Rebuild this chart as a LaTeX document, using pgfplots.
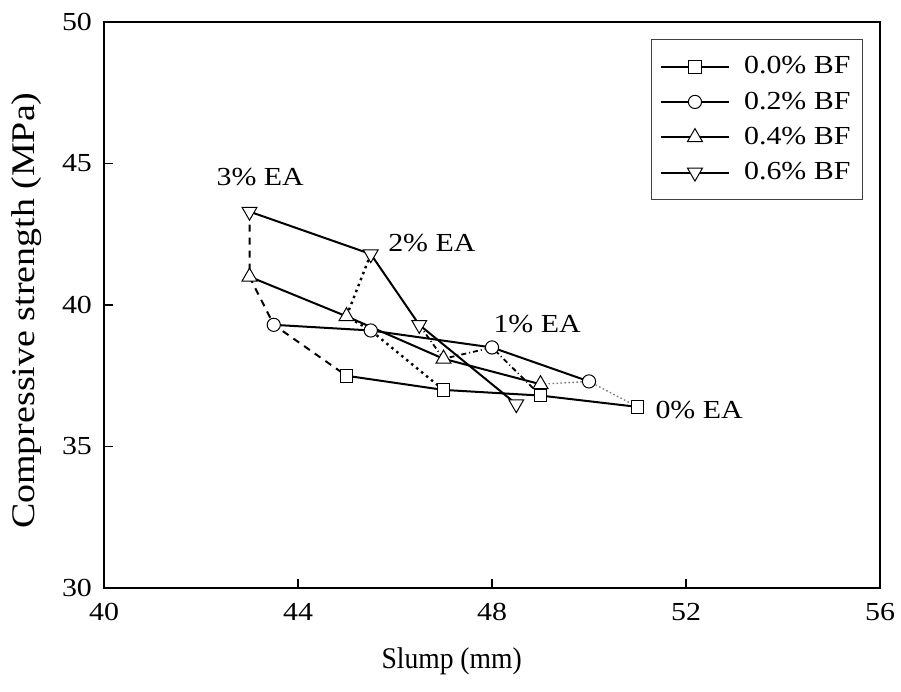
\documentclass[border=0pt]{standalone}
\usepackage{fontspec}
\setmainfont{Liberation Serif}[FakeStretch=1.15]
\newfontfamily\xlabfont{Liberation Serif}[FakeStretch=0.92]
\usepackage{pgfplots}
\pgfplotsset{compat=1.18}
\begin{document}
\begin{tikzpicture}
\begin{axis}[name=ax, scale only axis, width=388pt, height=283pt,
  xmin=40, xmax=56, ymin=30, ymax=50,
  xtick={40,44,48,52,56}, ytick={30,35,40,45,50},
  tick pos=left, tick align=inside, major tick length=4.5pt,
  axis line style={line width=1.2pt},
  every tick/.style={black, line width=0.8pt},
  /pgf/number format/assume math mode=true,
  tick label style={font=\fontsize{13}{15}\selectfont},
  xticklabel style={yshift=-4pt},
  yticklabel style={xshift=-2.5pt},
  xlabel={Slump (mm)},
  ylabel={Compressive strength (MPa)},
  xlabel style={font=\xlabfont\fontsize{15}{17}\selectfont, at={(axis description cs:0.448,-0.129)}, anchor=center},
  ylabel style={font=\fontsize{16.5}{19}\selectfont, at={(axis description cs:-0.0992,0.49)}, anchor=center},
  legend style={at={(rel axis cs:0.978,0.97)}, anchor=north east, draw=black!75, line width=0.5pt,
    font=\fontsize{13}{15}\selectfont, row sep=3.5pt, column sep=5pt, inner xsep=4pt, inner ysep=6.5pt},
  legend cell align=left,
  legend image code/.code={\draw[mark repeat=2,mark phase=2,#1] plot coordinates {(0cm,0cm) (0.6cm,0cm) (1.2cm,0cm)};},
]
% EA connecting lines
\addplot[forget plot, black, line width=1pt, dash pattern=on 3.5pt off 3pt] coordinates {(43,43.3) (43,41.0) (43.5,39.3) (45,37.5)};
\addplot[forget plot, black, line width=1.2pt, dash pattern=on 1.2pt off 2pt] coordinates {(45.5,41.8) (45,39.6) (45.5,39.1) (47,37.0)};
\addplot[forget plot, black, line width=0.9pt, dash pattern=on 2.5pt off 1.5pt on 0.5pt off 1.5pt] coordinates {(46.5,39.3) (47,38.1) (48,38.5) (49,36.8)};
\addplot[forget plot, gray, line width=0.7pt, dash pattern=on 0.8pt off 1.2pt] coordinates {(49,37.2) (50,37.3) (51,36.4)};
% BF series
\addplot[black, line width=1pt, mark=square*, mark size=3.2pt, mark options={fill=white, line width=0.5pt, solid}] coordinates {(45,37.5) (47,37.0) (49,36.8) (51,36.4)};
\addlegendentry{0.0\% BF}
\addplot[black, line width=1pt, mark=*, mark size=3.3pt, mark options={fill=white, line width=0.5pt, solid}] coordinates {(43.5,39.3) (45.5,39.1) (48,38.5) (50,37.3)};
\addlegendentry{0.2\% BF}
\addplot[black, line width=1pt, mark=triangle*, mark size=4.3pt, mark options={fill=white, line width=0.5pt, solid}] coordinates {(43,41.0) (45,39.6) (47,38.1) (49,37.2)};
\addlegendentry{0.4\% BF}
\addplot[black, line width=1pt, mark=triangle*, mark size=4.3pt, mark options={fill=white, line width=0.5pt, solid, rotate=180}] coordinates {(43,43.3) (45.5,41.8) (46.5,39.3) (48.5,36.5)};
\addlegendentry{0.6\% BF}
\node[font=\fontsize{13}{15}\selectfont] at (axis cs:43.22,44.52) {3\% EA};
\node[font=\fontsize{13}{15}\selectfont] at (axis cs:46.76,42.19) {2\% EA};
\node[font=\fontsize{13}{15}\selectfont] at (axis cs:48.93,39.33) {1\% EA};
\node[font=\fontsize{13}{15}\selectfont] at (axis cs:52.27,36.29) {0\% EA};
\end{axis}
\pgfresetboundingbox
\path ([shift={(-52pt,-51.5pt)}]ax.south west) rectangle ([shift={(10.5pt,11pt)}]ax.north east);
\end{tikzpicture}
\end{document}
